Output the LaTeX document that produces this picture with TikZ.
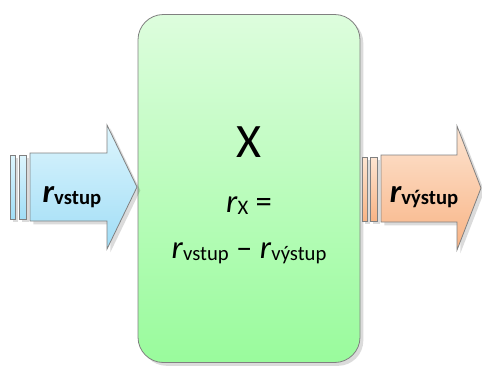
\documentclass[tikz,border=0pt]{standalone}
\usepackage{fontspec}
\setmainfont{Carlito}
\usepackage{tikz}
\usetikzlibrary{shadows}

\definecolor{boxtop}{HTML}{DDFDDD}
\definecolor{boxbot}{HTML}{99FB9C}
\definecolor{intop}{HTML}{DDF5FD}
\definecolor{inbot}{HTML}{A0DDF6}
\definecolor{outtop}{HTML}{FDE5D2}
\definecolor{outbot}{HTML}{F8B384}

\tikzset{
  rim/.style={draw=black!50, line width=0.6pt},
  softshadow/.style={drop shadow={shadow xshift=2.5pt, shadow yshift=-2.5pt,
                     fill=black, opacity=0.14}},
  inflow/.style={rim, top color=intop, bottom color=inbot},
  outflow/.style={rim, top color=outtop, bottom color=outbot},
  bigtxt/.style={font=\fontsize{24.5}{28}\selectfont, anchor=base},
}
\newcommand{\lowsub}[1]{\raisebox{-2pt}{\fontsize{15.5}{18}\selectfont\upshape #1}}

\begin{document}
\begin{tikzpicture}[x=0.75pt, y=-0.75pt]
  \useasboundingbox (0,0) rectangle (482,365);

  %% ── Process box ────────────────────────────────────────────
  \node[rim, softshadow, rounded corners=19pt,
        top color=boxtop, bottom color=boxbot,
        minimum width=166.5pt, minimum height=261pt] (box) at (249,188.5) {};

  \node[font=\fontsize{36}{40}\selectfont, anchor=base] (name) at (249,157) {X};
  \node[bigtxt] (rate) at (249,212) {\textit{r}\lowsub{X} =};
  \node[bigtxt] (diff) at (249,258)
    {\textit{r}\lowsub{vstup} -- \textit{r}\lowsub{výstup}};

  %% ── Input arrow ────────────────────────────────────────────
  % strips
  \path[inflow, softshadow] (10,155) rectangle (15,219);
  \path[inflow, softshadow] (19,155) rectangle (26,219);
  % arrow body + head
  \path[inflow, softshadow] (30,153) -- (107,153) -- (107,125) -- (137,187)
    -- (107,249) -- (107,221) -- (30,221) -- cycle;
  \node[bigtxt] (vin) at (72,202)
    {\bfseries\itshape r\lowsub{vstup}};

  %% ── Output arrow ───────────────────────────────────────────
  % strips
  \path[outflow, softshadow] (362,157) rectangle (367,221);
  \path[outflow, softshadow] (370,157) rectangle (377,221);
  % arrow body + head
  \path[outflow, softshadow] (381,155) -- (457,155) -- (457,126) -- (481,188)
    -- (457,250) -- (457,222) -- (381,222) -- cycle;
  \node[bigtxt] (vout) at (424,202)
    {\bfseries\itshape r\lowsub{výstup}};

\end{tikzpicture}
\end{document}
